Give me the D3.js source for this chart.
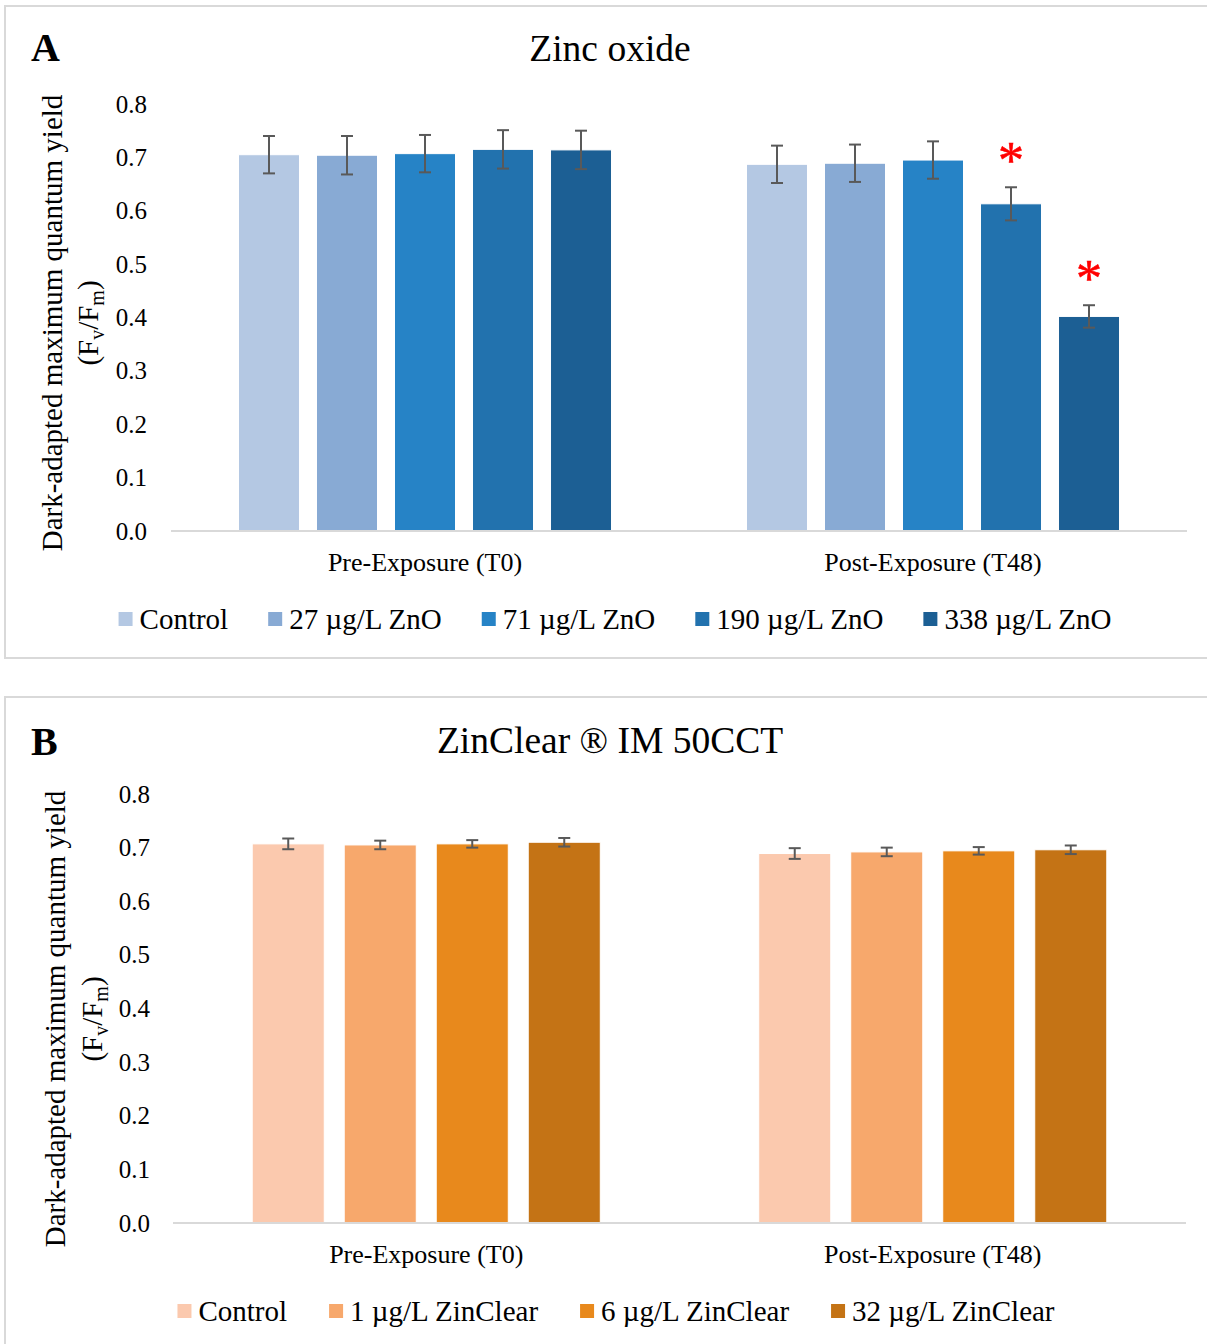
<!DOCTYPE html>
<html>
<head>
<meta charset="utf-8">
<script src="https://cdn.jsdelivr.net/npm/d3@7"></script>
<style>
  html, body { margin: 0; padding: 0; background: #fff; }
  svg { display: block; font-family: "Liberation Serif", "Times New Roman", serif; }
</style>
</head>
<body>
<svg id="chart" width="1207" height="1344"></svg>
<script>
// ---------- Data ----------
const categories = ["Pre-Exposure (T0)", "Post-Exposure (T48)"];
const yTicks = [0.0, 0.1, 0.2, 0.3, 0.4, 0.5, 0.6, 0.7, 0.8];

// Panel A: Zinc oxide
const seriesA = ["Control", "27 µg/L ZnO", "71 µg/L ZnO", "190 µg/L ZnO", "338 µg/L ZnO"];
const colorsA = ["#b4c8e3", "#88aad4", "#2683c6", "#2272ae", "#1c5f94"];
const valuesA_T0 = [0.705, 0.704, 0.707, 0.715, 0.714];
const valuesA_T48 = [0.687, 0.689, 0.695, 0.613, 0.402];
const errorsA_T0 = [0.035, 0.036, 0.035, 0.036, 0.036];
const errorsA_T48 = [0.035, 0.035, 0.035, 0.031, 0.021];
const signifA_T0 = [false, false, false, false, false];
const signifA_T48 = [false, false, false, true, true];

// Panel B: ZinClear IM 50CCT
const seriesB = ["Control", "1 µg/L ZinClear", "6 µg/L ZinClear", "32 µg/L ZinClear"];
const colorsB = ["#fbc9ae", "#f7a86c", "#e8891c", "#c47315"];
const valuesB_T0 = [0.707, 0.705, 0.707, 0.710];
const valuesB_T48 = [0.689, 0.692, 0.694, 0.696];
const errorsB_T0 = [0.010, 0.008, 0.007, 0.008];
const errorsB_T48 = [0.010, 0.008, 0.007, 0.008];
const signifB_T0 = [false, false, false, false];
const signifB_T48 = [false, false, false, false];

// ---------- Drawing ----------
const svg = d3.select("#chart");

function drawPanel(cfg) {
  const g = svg.append("g");

  // frame
  g.append("rect")
    .attr("x", cfg.frame.x).attr("y", cfg.frame.y)
    .attr("width", cfg.frame.w).attr("height", cfg.frame.h)
    .attr("fill", "#fff").attr("stroke", "#d9d9d9").attr("stroke-width", 2);

  // panel letter
  g.append("text")
    .attr("x", cfg.letterX).attr("y", cfg.letterY)
    .attr("font-size", 40).attr("font-weight", "bold")
    .text(cfg.letter);

  // title
  g.append("text")
    .attr("x", cfg.titleX).attr("y", cfg.titleY)
    .attr("text-anchor", "middle").attr("font-size", 37.5)
    .text(cfg.title);

  const x0 = d3.scaleBand().domain(categories).range([cfg.x0, cfg.x1]).paddingInner(0).paddingOuter(0);
  const x1 = d3.scaleBand().domain(cfg.series).range([0, x0.bandwidth()])
    .paddingInner(cfg.pInner).paddingOuter(cfg.pOuter);
  const y = d3.scaleLinear().domain([0, 0.8]).range([cfg.yBottom, cfg.yTop]);

  // y axis ticks (no line)
  const yAxis = d3.axisLeft(y).tickValues(yTicks).tickFormat(d3.format(".1f")).tickSize(0).tickPadding(0);
  const ya = g.append("g").attr("transform", `translate(${cfg.tickX},0)`).call(yAxis);
  ya.select(".domain").remove();
  ya.selectAll("text").attr("font-size", 25).attr("fill", "#000")
    .attr("font-family", "'Liberation Serif', 'Times New Roman', serif");

  // category axis labels
  g.selectAll(".cat").data(categories).enter().append("text")
    .attr("x", d => x0(d) + x0.bandwidth() / 2)
    .attr("y", cfg.catY)
    .attr("text-anchor", "middle").attr("font-size", 26)
    .text(d => d);

  // bars
  const rows = [];
  categories.forEach((c, ci) => {
    cfg.series.forEach((s, si) => {
      rows.push({ cat: c, s, i: si, v: cfg.values[ci][si], e: cfg.errors[ci][si], sig: cfg.signif[ci][si] });
    });
  });

  g.selectAll(".bar").data(rows).enter().append("rect")
    .attr("x", d => x0(d.cat) + x1(d.s))
    .attr("y", d => y(d.v))
    .attr("width", x1.bandwidth())
    .attr("height", d => y(0) - y(d.v))
    .attr("fill", d => cfg.colors[d.i])
    .attr("stroke", "#fff").attr("stroke-width", 1);

  // baseline axis line
  g.append("line")
    .attr("x1", cfg.x0).attr("x2", cfg.x1)
    .attr("y1", y(0)).attr("y2", y(0))
    .attr("stroke", "#d9d9d9").attr("stroke-width", 2);

  // error bars
  const cap = 6;
  const eb = g.selectAll(".eb").data(rows).enter().append("g")
    .attr("stroke", "#595959").attr("stroke-width", 2);
  eb.append("line")
    .attr("x1", d => x0(d.cat) + x1(d.s) + x1.bandwidth() / 2)
    .attr("x2", d => x0(d.cat) + x1(d.s) + x1.bandwidth() / 2)
    .attr("y1", d => y(d.v + d.e)).attr("y2", d => y(d.v - d.e));
  eb.append("line")
    .attr("x1", d => x0(d.cat) + x1(d.s) + x1.bandwidth() / 2 - cap)
    .attr("x2", d => x0(d.cat) + x1(d.s) + x1.bandwidth() / 2 + cap)
    .attr("y1", d => y(d.v + d.e)).attr("y2", d => y(d.v + d.e));
  eb.append("line")
    .attr("x1", d => x0(d.cat) + x1(d.s) + x1.bandwidth() / 2 - cap)
    .attr("x2", d => x0(d.cat) + x1(d.s) + x1.bandwidth() / 2 + cap)
    .attr("y1", d => y(d.v - d.e)).attr("y2", d => y(d.v - d.e));

  // significance asterisks
  g.selectAll(".sig").data(rows.filter(d => d.sig)).enter().append("text")
    .attr("x", d => x0(d.cat) + x1(d.s) + x1.bandwidth() / 2)
    .attr("y", d => y(d.v + d.e) - 33 + 24)
    .attr("text-anchor", "middle").attr("font-size", 52).attr("fill", "#ff0000")
    .attr("stroke", "#ff0000").attr("stroke-width", 0.6)
    .text("*");

  // y axis title
  g.append("text")
    .attr("transform", `translate(${cfg.ylabX1},${cfg.ylabY}) rotate(-90)`)
    .attr("text-anchor", "middle").attr("font-size", 29)
    .text("Dark-adapted maximum quantum yield");
  const yt2 = g.append("text")
    .attr("transform", `translate(${cfg.ylabX2},${cfg.ylabY}) rotate(-90)`)
    .attr("text-anchor", "middle").attr("font-size", 29);
  yt2.append("tspan").text("(F");
  yt2.append("tspan").attr("font-size", 20).attr("dy", 6).text("v");
  yt2.append("tspan").attr("dy", -6).text("/F");
  yt2.append("tspan").attr("font-size", 20).attr("dy", 6).text("m");
  yt2.append("tspan").attr("dy", -6).text(")");

  // legend
  const lg = g.append("g");
  const items = lg.selectAll(".li").data(cfg.series).enter().append("g");
  items.append("rect").attr("width", 14).attr("height", 14).attr("y", -17)
    .attr("fill", (d, i) => cfg.colors[i]);
  items.append("text").attr("x", 21).attr("font-size", 29).text(d => d);
  let xpos = 0;
  const gap = cfg.legendGap;
  items.each(function () {
    const w = 21 + d3.select(this).select("text").node().getComputedTextLength();
    d3.select(this).attr("transform", `translate(${xpos},0)`);
    xpos += w + gap;
  });
  const total = xpos - gap;
  lg.attr("transform", `translate(${cfg.legendCX - total / 2},${cfg.legendY})`);
}

drawPanel({
  frame: { x: 5, y: 6, w: 1220, h: 652 },
  letter: "A", letterX: 31, letterY: 61,
  title: "Zinc oxide", titleX: 610, titleY: 61,
  series: seriesA, colors: colorsA,
  values: [valuesA_T0, valuesA_T48], errors: [errorsA_T0, errorsA_T48], signif: [signifA_T0, signifA_T48],
  x0: 171, x1: 1187, pInner: 0.218, pOuter: 0.865,
  yBottom: 531, yTop: 104, tickX: 147,
  catY: 571,
  ylabX1: 62, ylabX2: 98, ylabY: 323,
  legendCX: 615, legendY: 629, legendGap: 40
});

drawPanel({
  frame: { x: 5, y: 697, w: 1220, h: 700 },
  letter: "B", letterX: 31, letterY: 755,
  title: "ZinClear ® IM 50CCT", titleX: 610, titleY: 753,
  series: seriesB, colors: colorsB,
  values: [valuesB_T0, valuesB_T48], errors: [errorsB_T0, errorsB_T48], signif: [signifB_T0, signifB_T48],
  x0: 173, x1: 1186, pInner: 0.217, pOuter: 0.861,
  yBottom: 1223, yTop: 794, tickX: 150,
  catY: 1263,
  ylabX1: 65, ylabX2: 102, ylabY: 1019,
  legendCX: 616, legendY: 1321, legendGap: 42
});
</script>
</body>
</html>
